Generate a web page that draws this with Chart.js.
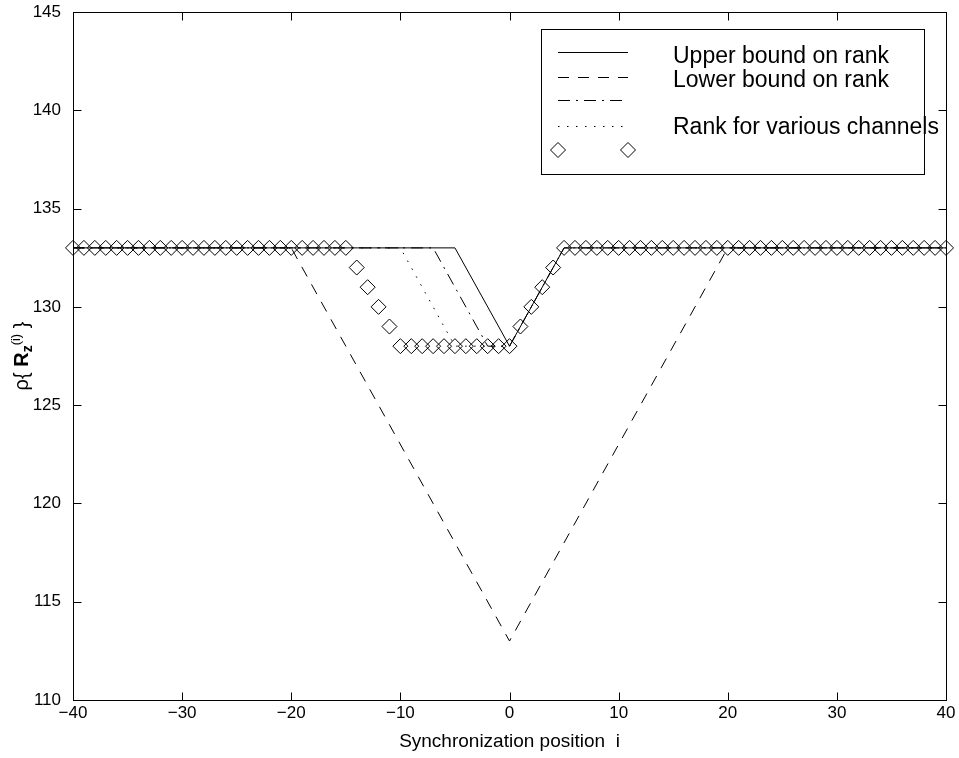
<!DOCTYPE html>
<html><head><meta charset="utf-8">
<script src="https://cdn.jsdelivr.net/npm/chart.js@4.4.0/dist/chart.umd.min.js"></script>
<style>html,body{margin:0;padding:0;background:#fff;}#wrap{width:959px;height:758px;}</style>
</head><body><div id="wrap"><canvas id="c" width="959" height="758"></canvas></div>
<script>
// ---- data ----
const positions = [-40,-39,-38,-37,-36,-35,-34,-33,-32,-31,-30,-29,-28,-27,-26,-25,-24,-23,-22,-21,-20,-19,-18,-17,-16,-15,-14,-13,-12,-11,-10,-9,-8,-7,-6,-5,-4,-3,-2,-1,0,1,2,3,4,5,6,7,8,9,10,11,12,13,14,15,16,17,18,19,20,21,22,23,24,25,26,27,28,29,30,31,32,33,34,35,36,37,38,39,40];
const diamondRank = [133,133,133,133,133,133,133,133,133,133,133,133,133,133,133,133,133,133,133,133,133,133,133,133,133,133,132,131,130,129,128,128,128,128,128,128,128,128,128,128,128,129,130,131,132,133,133,133,133,133,133,133,133,133,133,133,133,133,133,133,133,133,133,133,133,133,133,133,133,133,133,133,133,133,133,133,133,133,133,133,133];
const upperX = [-40,-5,0,5,40];
const upperY = [133,133,128,133,133];
const lowerX = [-40,-20,0,20,40];
const lowerY = [133,133,113,133,133];
const chanAX = [-40,-7,-2,0,5,40];
const chanAY = [133,133,128,128,133,133];
const chanBX = [-40,-10,-5,0,5,40];
const chanBY = [133,133,128,128,133,133];
const xTicks = [-40,-30,-20,-10,0,10,20,30,40];
const yTicks = [110,115,120,125,130,135,140,145];
const legendLabels = ['Upper bound on rank','Lower bound on rank','','Rank for various channels',''];
const xTitle = 'Synchronization position  i';

const FONT = '"Liberation Sans", Arial, Helvetica, sans-serif';
const zip = (xs, ys) => xs.map((x, i) => ({x, y: ys[i]}));

const dashes = [[], [11, 9], [12, 6, 2, 6], [1.5, 7.5]];

const lineDs = (data, dash) => ({data, showLine: true, borderColor: '#000', borderWidth: 1, borderDash: dash, pointRadius: 0, fill: false, clip: false});

function diamond(ctx, x, y) {
  ctx.beginPath(); ctx.moveTo(x, y - 7.5); ctx.lineTo(x + 7.5, y); ctx.lineTo(x, y + 7.5); ctx.lineTo(x - 7.5, y); ctx.closePath(); ctx.stroke();
}

const framePlugin = {
  id: 'frame',
  afterDraw(chart) {
    const {ctx, chartArea: a, scales: {x, y}} = chart;
    ctx.save();
    ctx.strokeStyle = '#000'; ctx.lineWidth = 1;
    const L = Math.round(a.left) + 0.5, R = Math.round(a.right) + 0.5, T = Math.round(a.top) + 0.5, B = Math.round(a.bottom) + 0.5;
    ctx.strokeRect(L, T, R - L, B - T);
    const tl = 8;
    ctx.beginPath();
    xTicks.forEach(v => { const px = Math.round(x.getPixelForValue(v)) + 0.5; ctx.moveTo(px, B); ctx.lineTo(px, B - tl); ctx.moveTo(px, T); ctx.lineTo(px, T + tl); });
    yTicks.forEach(v => { const py = Math.round(y.getPixelForValue(v)) + 0.5; ctx.moveTo(L, py); ctx.lineTo(L + tl, py); ctx.moveTo(R, py); ctx.lineTo(R - tl, py); });
    ctx.stroke();

    // legend
    const lx = 541.5, ly = 29.5, lw = 383, lh = 145;
    ctx.fillStyle = '#fff'; ctx.fillRect(lx, ly, lw, lh); ctx.strokeRect(lx, ly, lw, lh);
    const rows = [52.5, 77.5, 100.5, 126.5, 150];
    const bases = [63, 87, 111, 134, 158];
    for (let i = 0; i < 4; i++) {
      ctx.setLineDash(dashes[i]);
      ctx.beginPath(); ctx.moveTo(558, rows[i]); ctx.lineTo(628, rows[i]); ctx.stroke();
    }
    ctx.setLineDash([]);
    diamond(ctx, 558, 150); diamond(ctx, 628, 150);
    ctx.fillStyle = '#000'; ctx.font = '23px ' + FONT; ctx.textBaseline = 'alphabetic'; ctx.textAlign = 'left';
    legendLabels.forEach((t, i) => { if (t) ctx.fillText(t, 673, bases[i]); });

    // x title
    ctx.font = '19px ' + FONT; ctx.textAlign = 'center';
    ctx.fillText(xTitle, (a.left + a.right) / 2, 747);

    // y title
    ctx.save();
    ctx.translate(28, 356); ctx.rotate(-Math.PI / 2);
    ctx.textAlign = 'left';
    const parts = [
      {t: '\u03c1{ ', f: '20px ' + FONT, dy: 0},
      {t: 'R', f: 'bold 20px ' + FONT, dy: 0},
      {t: 'z', f: 'bold 14px ' + FONT, dy: 4},
      {t: '(i)', f: '13px ' + FONT, dy: -8},
      {t: ' }', f: '20px ' + FONT, dy: 0}
    ];
    let tot = 0; parts.forEach(p => { ctx.font = p.f; p.w = ctx.measureText(p.t).width; tot += p.w; });
    let cx = -tot / 2;
    parts.forEach(p => { ctx.font = p.f; ctx.fillText(p.t, cx, p.dy); cx += p.w; });
    ctx.restore();
    ctx.restore();
  }
};

new Chart(document.getElementById('c'), {
  type: 'scatter',
  data: {
    datasets: [
      lineDs(zip(upperX, upperY), dashes[0]),
      lineDs(zip(lowerX, lowerY), dashes[1]),
      lineDs(zip(chanAX, chanAY), dashes[2]),
      lineDs(zip(chanBX, chanBY), dashes[3]),
      {data: zip(positions, diamondRank), showLine: false, pointStyle: 'rectRot', pointRadius: 7.5, borderWidth: 1, borderColor: '#000', backgroundColor: 'rgba(0,0,0,0)', clip: false}
    ]
  },
  options: {
    responsive: false, animation: false, devicePixelRatio: 1,
    layout: {padding: {top: 12, right: 13, left: 0, bottom: 0}},
    plugins: {legend: {display: false}, tooltip: {enabled: false}},
    scales: {
      x: {
        type: 'linear', min: -40, max: 40,
        afterBuildTicks: s => { s.ticks = xTicks.map(v => ({value: v})); },
        afterFit: s => { s.height = 58; s.paddingLeft = 0; s.paddingRight = 0; },
        grid: {display: false, drawTicks: false}, border: {display: false},
        ticks: {color: '#000', font: {family: FONT, size: 17}, padding: 3, maxRotation: 0, callback: v => String(v).replace('-', '\u2212')}
      },
      y: {
        min: 110, max: 145,
        afterBuildTicks: s => { s.ticks = yTicks.map(v => ({value: v})); },
        afterFit: s => { s.width = 73; s.paddingTop = 0; s.paddingBottom = 0; },
        grid: {display: false, drawTicks: false}, border: {display: false},
        ticks: {color: '#000', font: {family: FONT, size: 17}, padding: 12}
      }
    }
  },
  plugins: [framePlugin]
});
</script>
</body></html>
